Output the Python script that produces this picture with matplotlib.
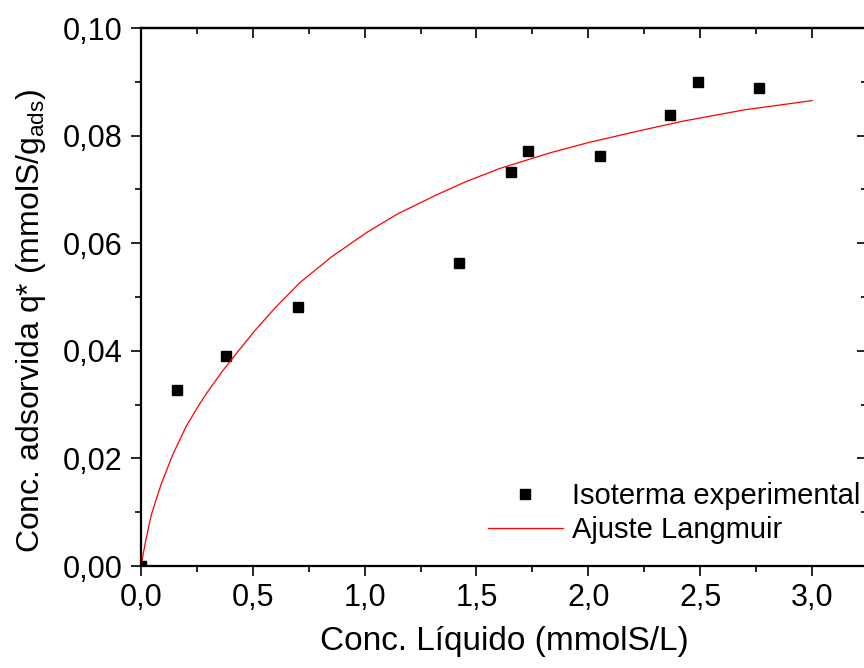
import matplotlib
matplotlib.use('Agg')
import matplotlib.pyplot as plt
from matplotlib.ticker import MultipleLocator

plt.rcParams['font.family'] = ['Liberation Sans', 'DejaVu Sans']
plt.rcParams['mathtext.fontset'] = 'custom'
plt.rcParams['mathtext.rm'] = 'Liberation Sans'

# dados experimentais
conc_liq = [0.0, 0.161, 0.38, 0.702, 1.422, 1.654, 1.730, 2.052, 2.365, 2.49, 2.763]
q_exp = [0.0, 0.0327, 0.0390, 0.0481, 0.0563, 0.0732, 0.0771, 0.0762, 0.0838, 0.0900, 0.0888]

# ajuste Langmuir
conc_fit = [0.0, 0.02, 0.046, 0.09, 0.14, 0.20, 0.26, 0.30, 0.36, 0.428, 0.51, 0.60, 0.711,
            0.85, 1.009, 1.15, 1.307, 1.45, 1.605, 1.829, 2.0, 2.25, 2.425, 2.70, 3.0]
q_fit = [0.0, 0.0045, 0.0095, 0.0152, 0.0205, 0.0258, 0.0300, 0.0325, 0.0360, 0.0396,
         0.0438, 0.0480, 0.0527, 0.0574, 0.0620, 0.0655, 0.0687, 0.0714, 0.0739, 0.0768,
         0.0787, 0.0811, 0.0827, 0.0848, 0.0865]

fig = plt.figure(figsize=(8.64, 6.68), dpi=100)
ax = fig.add_axes([141 / 864, 1 - 566 / 668, 726 / 864, 538 / 668])

ax.plot(conc_liq, q_exp, 's', color='black', markersize=7.5, label='Isoterma experimental',
        zorder=2)
ax.plot(conc_fit, q_fit, '-', color='red', linewidth=0.9, label='Ajuste Langmuir', zorder=2)

ax.set_xlim(0, 3.246)
ax.set_ylim(0, 0.10)
ax.xaxis.set_major_locator(MultipleLocator(0.5))
ax.xaxis.set_minor_locator(MultipleLocator(0.25))
ax.yaxis.set_major_locator(MultipleLocator(0.02))
ax.yaxis.set_minor_locator(MultipleLocator(0.01))
# virgula decimal
ax.xaxis.set_major_formatter(plt.FuncFormatter(lambda v, p: ('%.1f' % v).replace('.', ',')))
ax.yaxis.set_major_formatter(plt.FuncFormatter(lambda v, p: ('%.2f' % v).replace('.', ',')))

for s in ax.spines.values():
    s.set_linewidth(1.6)
    s.set_zorder(3)

ax.tick_params(axis='both', which='major', direction='out', length=7.5, width=1.2,
               labelsize=22, pad=5)
ax.tick_params(axis='both', which='minor', direction='out', length=4.5, width=1.2)
ax.tick_params(axis='y', which='major', pad=6)

# eixos de cima e da direita com ticks para dentro
top = ax.secondary_xaxis('top')
top.xaxis.set_major_locator(MultipleLocator(0.5))
top.xaxis.set_minor_locator(MultipleLocator(0.25))
top.tick_params(which='major', direction='in', length=7.5, width=1.2, labeltop=False)
top.tick_params(which='minor', direction='in', length=4, width=1.2)
top.spines['top'].set_linewidth(1.6)
right = ax.secondary_yaxis('right')
right.yaxis.set_major_locator(MultipleLocator(0.02))
right.yaxis.set_minor_locator(MultipleLocator(0.01))
right.tick_params(which='major', direction='in', length=7.5, width=1.2, labelright=False)
right.tick_params(which='minor', direction='in', length=4, width=1.2)

ax.set_xlabel('Conc. Líquido (mmolS/L)', fontsize=24)
ax.set_ylabel(r'Conc. adsorvida q* (mmolS/g$_{\mathregular{ads}}$)', fontsize=23)
ax.xaxis.set_label_coords(0.5, -0.112)
ax.yaxis.set_label_coords(-0.128, 0.455)

ax.legend(loc='upper left', bbox_to_anchor=(488 / 864, 1 - 482 / 668),
          bbox_transform=fig.transFigure, frameon=False, fontsize=21,
          handlelength=2.57, handletextpad=0.3, labelspacing=0.22,
          borderpad=0, borderaxespad=0)

fig.savefig('out.png', dpi=100)
plt.close(fig)
